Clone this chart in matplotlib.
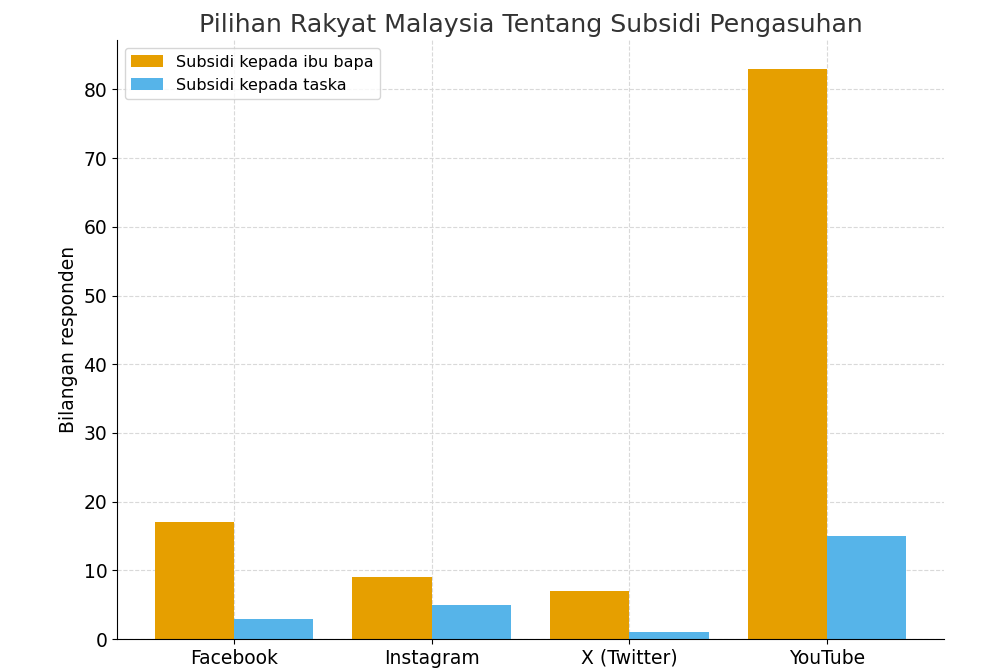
import numpy as np
import matplotlib
matplotlib.use("Agg")
import matplotlib.pyplot as plt

platforms = ["Facebook", "Instagram", "X (Twitter)", "YouTube"]
subsidi_ibu_bapa = [17, 9, 7, 83]
subsidi_taska = [3, 5, 1, 15]

label_ibu_bapa = "Subsidi kepada ibu bapa"
label_taska = "Subsidi kepada taska"

fig = plt.figure(figsize=(10, 6.7), dpi=100)
ax = fig.add_axes([0.117, 0.046, 0.827, 0.894])

x = np.arange(len(platforms))
width = 0.4
ax.bar(x - width / 2, subsidi_ibu_bapa, width, color="#E69F00", label=label_ibu_bapa)
ax.bar(x + width / 2, subsidi_taska, width, color="#56B4E9", label=label_taska)

ax.set_xticks(x)
ax.set_xticklabels(platforms, fontsize=13.5)
ax.tick_params(axis="y", labelsize=13.5)
ax.set_ylabel("Bilangan responden", fontsize=13.5)
ax.set_title("Pilihan Rakyat Malaysia Tentang Subsidi Pengasuhan", fontsize=18.2, color="#333333")

ax.grid(True, linestyle="--", color="#d9d9d9", linewidth=0.8)
ax.set_axisbelow(True)
ax.spines["top"].set_visible(False)
ax.spines["right"].set_visible(False)

ax.legend(loc="upper left", fontsize=11.5)

fig.savefig("out.png", dpi=100)
